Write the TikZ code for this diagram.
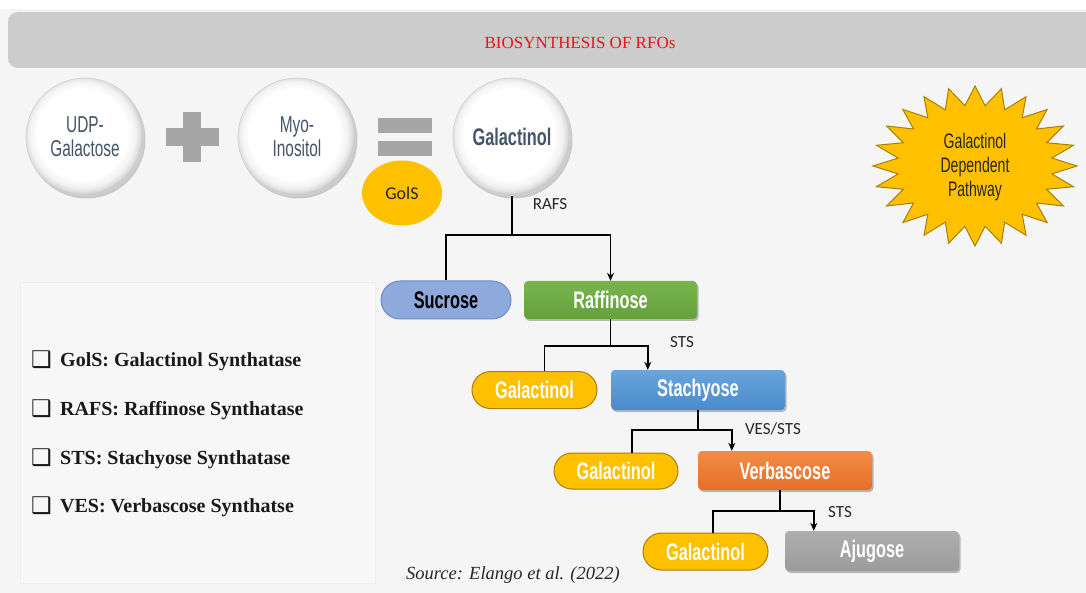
\documentclass[tikz,border=0pt]{standalone}
\usepackage{fontspec}
\setmainfont{Liberation Serif}
\newfontfamily\condreg[FakeStretch=0.67]{Liberation Sans}
\newfontfamily\condbold[FakeStretch=0.68]{Liberation Sans}
\newfontfamily\calfont{Carlito}
\newfontfamily\dejafont{DejaVu Sans}
\usetikzlibrary{shadows,arrows.meta,shapes.misc,shapes.geometric,calc}
\definecolor{bgc}{HTML}{F5F5F5}
\definecolor{titlebar}{HTML}{CCCCCC}
\definecolor{titlered}{HTML}{E8141C}
\definecolor{circtext}{HTML}{44546A}
\definecolor{opgray}{HTML}{A6A6A6}
\definecolor{gold}{HTML}{FFC000}
\definecolor{golddark}{HTML}{A88000}
\definecolor{sucfill}{HTML}{8EA9DB}
\definecolor{sucdraw}{HTML}{6E8CC4}
\definecolor{greentop}{HTML}{78B54E}
\definecolor{greenbot}{HTML}{64A13C}
\definecolor{bluetop}{HTML}{68A5DC}
\definecolor{bluebot}{HTML}{4A8BCB}
\definecolor{orangetop}{HTML}{F28C45}
\definecolor{orangebot}{HTML}{E66F28}
\definecolor{graytop}{HTML}{AEAEAE}
\definecolor{graybot}{HTML}{9B9B9B}
\definecolor{legfill}{HTML}{F7F7F7}
\pgfdeclareradialshading{rim}{\pgfpoint{-2bp}{2bp}}{color(0bp)=(white); color(19bp)=(white); color(22.5bp)=(black!5); color(24.5bp)=(black!14); color(25bp)=(black!20); color(50bp)=(black!20)}
\tikzset{
  ball/.style={circle, minimum size=118pt, inner sep=0pt, shading=rim, draw=black!18, line width=0.6pt,
    drop shadow={shadow xshift=1.5pt, shadow yshift=-2.5pt, opacity=0.18, fill=black},
    align=center, text=circtext},
  pill/.style={rounded rectangle, minimum height=37pt, inner sep=0pt, line width=1pt,
    font=\condbold\bfseries\fontsize{24}{26}\selectfont},
  galpill/.style={pill, fill=gold, draw=golddark, text=white, minimum width=125pt},
  sugarbox/.style={rectangle, rounded corners=4pt, minimum width=174pt, minimum height=39pt, inner sep=0pt,
    text=white, font=\condbold\bfseries\fontsize{24}{26}\selectfont,
    drop shadow={shadow xshift=1.5pt, shadow yshift=-2pt, opacity=0.25, fill=black}},
  conn/.style={line width=1.8pt, black},
  arr/.style={conn, -{Stealth[length=8pt,width=7pt]}},
  enzlabel/.style={font=\calfont\fontsize{17}{19}\selectfont, text=black!85, inner sep=0pt},
  legitem/.style={anchor=base west, inner sep=0pt, font=\bfseries\fontsize{20}{22}\selectfont, text=black!90},
  opbar/.style={fill=opgray}
}
\newcommand{\chkbox}{\makebox[29pt][l]{\raisebox{-1pt}{\dejafont\mdseries\fontsize{23}{23}\selectfont ❑}}}
\begin{document}
\begin{tikzpicture}[x=1pt,y=-1pt]
\useasboundingbox (0,0) rectangle (1086,593);
\fill[bgc] (0,0) rectangle (1086,593);
\fill[white] (0,0) rectangle (1086,9);
\begin{scope}
\clip (0,0) rectangle (1086,593);
\fill[titlebar, rounded corners=10pt] (8,12) rectangle (1110,68);
\end{scope}
\node[text=titlered, font=\fontsize{17}{19}\selectfont, inner sep=0pt] (title) at (580,43) {BIOSYNTHESIS OF RFOs};

% legend
\draw[draw=black!7, fill=legfill, line width=0.8pt] (20,282) rectangle (375,583);
\node[legitem] (l1) at (31,366) {\chkbox GolS: Galactinol Synthatase};
\node[legitem] (l2) at (31,415) {\chkbox RAFS: Raffinose Synthatase};
\node[legitem] (l3) at (31,464) {\chkbox STS: Stachyose Synthatase};
\node[legitem] (l4) at (31,512) {\chkbox VES: Verbascose Synthatse};

% top equation
\node[ball, font=\condreg\fontsize{23}{24}\selectfont] (udp) at (85,137) {UDP-\\Galactose};
\node[ball, font=\condreg\fontsize{23}{24}\selectfont] (myo) at (297,137) {Myo-\\Inositol};
\node[ball, font=\condbold\bfseries\fontsize{24}{26}\selectfont] (galc) at (512,137) {Galactinol};
\fill[opbar] (166,128) rectangle (219,146);
\fill[opbar] (183,112) rectangle (201,162);
\fill[opbar] (378,118) rectangle (432,133);
\fill[opbar] (378,141) rectangle (432,156);
\node[ellipse, fill=gold, minimum width=80pt, minimum height=65pt, inner sep=0pt,
  font=\calfont\fontsize{18}{20}\selectfont, text=black!85] (gols) at (402,193) {GolS};

% starburst
\path[draw=golddark, fill=gold, line width=1pt]
  (1077,166) \foreach \i in {1,...,47}{ -- ({975+102*(0.88+0.12*cos(\i*180))*cos(\i*7.5)},{166+80*(0.88+0.12*cos(\i*180))*sin(\i*7.5)}) } -- cycle;
\node[align=center, font=\condreg\fontsize{21}{24}\selectfont, text=black!85] (gdp) at (975,167) {Galactinol\\Dependent\\Pathway};

% sugars
\node[pill, fill=sucfill, draw=sucdraw, text=black, minimum width=130pt, minimum height=38pt] (suc) at (446,300) {Sucrose};
\node[sugarbox, top color=greentop, bottom color=greenbot, minimum height=38pt, minimum width=173pt] (raf) at (610.5,300) {Raffinose};
\node[galpill] (g1) at (534.5,390) {Galactinol};
\node[sugarbox, top color=bluetop, bottom color=bluebot, minimum height=40pt] (sta) at (698,390) {Stachyose};
\node[galpill, minimum width=124pt, minimum height=36pt] (g2) at (616,471) {Galactinol};
\node[sugarbox, top color=orangetop, bottom color=orangebot] (ver) at (785,470.5) {Verbascose};
\node[galpill] (g3) at (705.5,551.5) {Galactinol};
\node[sugarbox, top color=graytop, bottom color=graybot, minimum height=40pt] (aju) at (872,551) {Ajugose};

% connectors
\coordinate (j1) at ($(galc.south)+(0,39)$);
\draw[conn] (galc.south) -- (j1);
\draw[conn] (j1) -| (suc.north);
\draw[arr] (j1) -| (raf.north);
\node[enzlabel] (rafs) at (550,204) {RAFS};

\coordinate (j2) at ($(raf.south)+(0,27)$);
\draw[conn] (raf.south) -- (j2);
\draw[conn] (j2) -| ([xshift=10pt]g1.north);
\draw[arr] (j2) -| ([xshift=37pt]sta.north west);
\node[enzlabel] (sts1) at (682,342) {STS};

\coordinate (j3) at ($(sta.south)+(0,20)$);
\draw[conn] (sta.south) -- (j3);
\draw[conn] (j3) -| ([xshift=16pt]g2.north);
\draw[arr] (j3) -| ([xshift=34pt]ver.north west);
\node[enzlabel] (vests) at (773,429) {VES/STS};

\coordinate (j4) at ($(ver.south)+(-5,21)$);
\draw[conn] ([xshift=-5pt]ver.south) -- (j4);
\draw[conn] (j4) -| ([xshift=7.5pt]g3.north);
\draw[arr] (j4) -| ([xshift=29pt]aju.north west);
\node[enzlabel] (sts2) at (840,512) {STS};

\node[font=\itshape\fontsize{18.5}{20}\selectfont, inner sep=0pt, text=black!85] (src) at (513,575) {Source: Elango et al. (2022)};
\end{tikzpicture}
\end{document}
